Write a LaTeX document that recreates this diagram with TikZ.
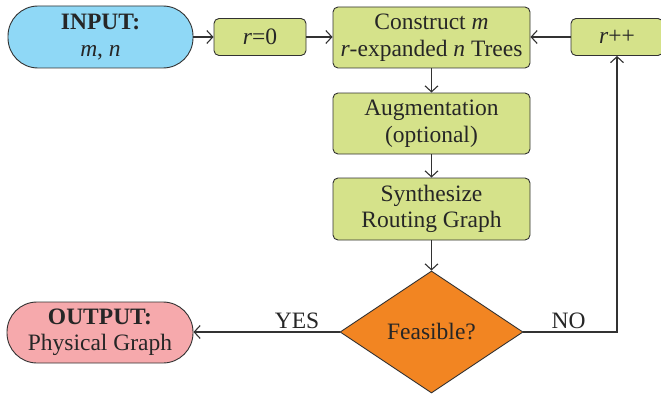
\documentclass[tikz,border=0pt]{standalone}
\usepackage{fontspec}
\setmainfont{Liberation Serif}
\usetikzlibrary{shapes.geometric,arrows.meta}

\definecolor{inblue}{RGB}{143,216,246}
\definecolor{boxgreen}{RGB}{213,226,138}
\definecolor{decorange}{RGB}{242,133,34}
\definecolor{outpink}{RGB}{246,169,172}
\definecolor{edgegray}{RGB}{50,50,50}

\tikzset{
  x=1pt, y=-1pt,
  every node/.style={font=\fontsize{23.5}{26.5}\selectfont, text=black!85},
  basebox/.style={draw=edgegray, line width=0.9pt, align=center, inner sep=0pt},
  stepbox/.style={basebox, fill=boxgreen, rounded corners=5pt},
  terminal/.style={basebox, rounded corners=30pt},
  decision/.style={basebox, diamond, fill=decorange, aspect=1.5,
                   minimum width=183pt, minimum height=122pt},
  flow/.style={draw=edgegray, line width=1.1pt,
               -{Straight Barb[length=6pt,width=13pt,line width=1.1pt]}},
  tag/.style={inner sep=0pt, anchor=base}
}

\begin{document}
\begin{tikzpicture}
\useasboundingbox (0,0) rectangle (661,396);

% start and end terminals
\node[terminal, fill=inblue, minimum width=185pt, minimum height=62pt]
  (input) at (100.5,37) {\textbf{INPUT:}\\ \textit{m}, \textit{n}};
\node[terminal, fill=outpink, minimum width=186pt, minimum height=61pt]
  (output) at (100,332.5) {\textbf{OUTPUT:}\\ Physical Graph};

% processing steps
\node[stepbox, minimum width=92pt, minimum height=37pt]
  (rzero) at (260,37) {\textit{r}=0};
\node[stepbox, minimum width=197pt, minimum height=61pt]
  (construct) at (431.5,37.5) {Construct \textit{m}\\ \textit{r}-expanded \textit{n} Trees};
\node[stepbox, minimum width=92pt, minimum height=37pt]
  (rinc) at (617,37) {\textit{r}++};
\node[stepbox, minimum width=197pt, minimum height=61pt]
  (augment) at (431.5,123.5) {Augmentation\\ (optional)};
\node[stepbox, minimum width=197pt, minimum height=62pt]
  (synth) at (431.5,209) {Synthesize\\ Routing Graph};

% feasibility test
\node[decision] (feasible) at (431.5,332) {Feasible?};

% connectors
\draw[flow] (input.east) -- (rzero.west);
\draw[flow] (rzero.west -| rzero.east) -- (construct.west |- rzero.west);
\draw[flow] (rinc.west) -- (construct.east |- rinc.west);
\draw[flow] (construct.south) -- (augment.north);
\draw[flow] (augment.south) -- (synth.north);
\draw[flow] (synth.south) -- (feasible.north);
\draw[flow] (feasible.west) -- (output.east |- feasible.west);
\draw[flow] (feasible.east) -| (rinc.south);

% branch labels
\node[tag] (yes) at (297,328) {YES};
\node[tag] (no) at (568.5,328) {NO};
\end{tikzpicture}
\end{document}
